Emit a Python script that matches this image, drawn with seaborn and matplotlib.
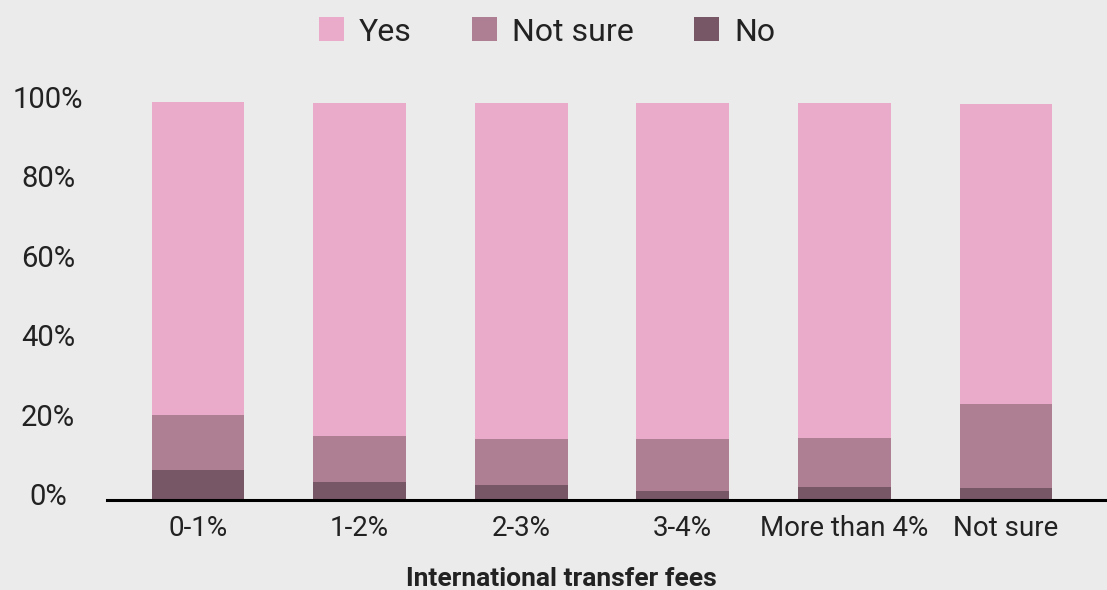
import numpy as np
import pandas as pd
import matplotlib
matplotlib.use('Agg')
import matplotlib.pyplot as plt
import matplotlib.transforms as mtransforms
from matplotlib.patches import Patch
import seaborn as sns

# data (percent of respondents)
categories = ['0-1%', '1-2%', '2-3%', '3-4%', 'More than 4%', 'Not sure']
no_vals = [7.6, 4.5, 3.8, 2.3, 3.3, 3.0]
not_sure_vals = [13.8, 11.6, 11.6, 13.1, 12.3, 21.2]
yes_vals = [78.9, 83.8, 84.5, 84.5, 84.3, 75.5]

series_names = ['Yes', 'Not sure', 'No']
colors = {'Yes': '#eaabcb', 'Not sure': '#ae7f93', 'No': '#775766'}
bg = '#ebebeb'

sns.set_style('white')
plt.rcParams['font.family'] = ['Roboto', 'DejaVu Sans']

# cumulative heights so the layers can be drawn on top of each other
cum_no = np.array(no_vals)
cum_ns = cum_no + np.array(not_sure_vals)
cum_yes = cum_ns + np.array(yes_vals)
df = pd.DataFrame({
    'category': categories * 3,
    'series': ['Yes'] * 6 + ['Not sure'] * 6 + ['No'] * 6,
    'top': list(cum_yes) + list(cum_ns) + list(cum_no),
})

fig = plt.figure(figsize=(11.07, 5.9), dpi=100, facecolor=bg)
ax = fig.add_axes([107 / 1107, 90 / 590, 1 - 107 / 1107, 436.7 / 590])
ax.set_facecolor(bg)

for name in series_names:
    sub = df[df['series'] == name]
    sns.barplot(data=sub, x='category', y='top', color=colors[name], saturation=1,
                width=0.575, errorbar=None, ax=ax, order=categories,
                linewidth=0, edgecolor='none')

ax.set_xlim(-0.563, 5.625)
ax.set_ylim(0, 110)
ax.set_yticks([0, 20, 40, 60, 80, 100])
ax.set_yticklabels(['0%', '20%', '40%', '60%', '80%', '100%'], fontsize=21, color='#222222')
ax.tick_params(axis='y', length=0, pad=42.5)
for lbl in ax.get_yticklabels():
    lbl.set_horizontalalignment('center')
    lbl.set_transform(lbl.get_transform() + mtransforms.ScaledTranslation(0, 6 / 100, fig.dpi_scale_trans))
ax.tick_params(axis='x', length=0, pad=11, labelsize=20, labelcolor='#222222')
ax.set_xlabel('')
ax.set_ylabel('')

sns.despine(ax=ax, left=True, top=True, right=True)
ax.spines['bottom'].set_linewidth(2.2)
ax.spines['bottom'].set_color('black')

fig.text(561 / 1107, 1 - 579 / 590, 'International transfer fees', ha='center', va='center',
         fontsize=19, fontweight='bold', color='#222222')

handles = [Patch(facecolor=colors[n], edgecolor='none') for n in series_names]
fig.legend(handles, series_names, loc='center', bbox_to_anchor=(547 / 1107, 1 - 32 / 590),
           ncol=3, frameon=False, fontsize=23, handlelength=0.78, handleheight=0.78,
           handletextpad=0.47, columnspacing=1.9, labelcolor='#222222')

fig.savefig('out.png', dpi=100, facecolor=bg)
